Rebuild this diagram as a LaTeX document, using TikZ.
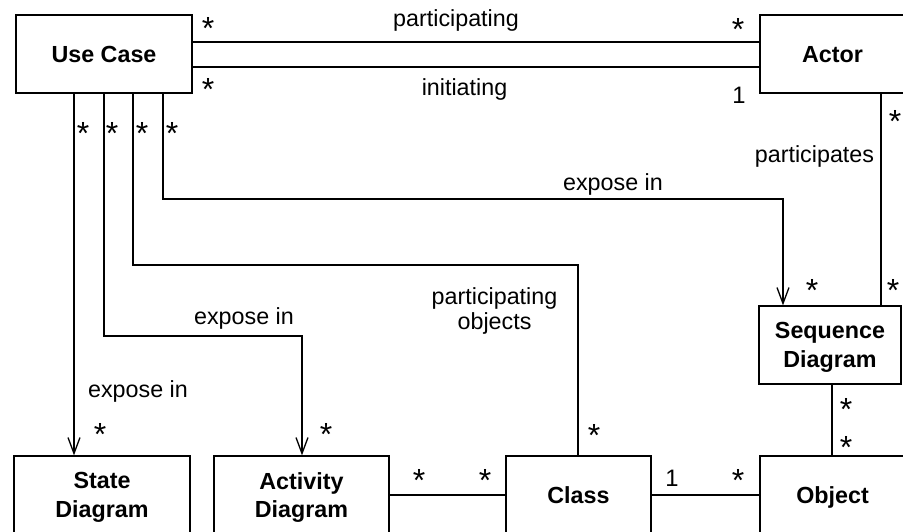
\documentclass[tikz,border=0pt]{standalone}
\usepackage{fontspec}
\setmainfont{Liberation Sans}
\usetikzlibrary{arrows.meta}
\begin{document}
\begin{tikzpicture}[x=1pt,y=-1pt,
  box/.style={draw, line width=1.3pt, inner sep=0pt, minimum height=78pt,
    font=\fontsize{23.3}{28.5}\selectfont\bfseries, align=center, text depth=0pt},
  lbl/.style={font=\fontsize{23.3}{25}\selectfont, anchor=base, inner sep=0pt, align=center},
  mult/.style={font=\fontsize{32}{32}\selectfont, anchor=base, inner sep=0pt, yshift=-18.2pt},
  one/.style={font=\fontsize{23.8}{25}\selectfont, anchor=base, inner sep=0pt},
  assoc/.style={line width=1.3pt},
  expose/.style={assoc, -{Straight Barb[length=16pt,width=12pt]}}]

\useasboundingbox (0,0) rectangle (903,531);

% classes of the model
\node[box, minimum width=176pt] (uc)    at (104,54)    {Use Case};
\node[box, minimum width=145pt] (actor) at (832.5,54)  {Actor};
\node[box, minimum width=142pt] (seq)   at (830,345)   {Sequence\\Diagram};
\node[box, minimum width=176pt] (state) at (102,495)   {State\\Diagram};
\node[box, minimum width=175pt] (act)   at (301.5,495) {Activity\\Diagram};
\node[box, minimum width=145pt] (class) at (578.5,495) {Class};
\node[box, minimum width=145pt] (obj)   at (832.5,495) {Object};

% associations
\draw[assoc] (uc.east |- 0,42) -- (actor.west |- 0,42);
\draw[assoc] (uc.east |- 0,67) -- (actor.west |- 0,67);
\draw[expose] (uc.south -| 74,0) -- (state.north -| 74,0);
\draw[expose] (uc.south -| 104,0) |- (302,336) -- (act.north -| 302,0);
\draw[assoc] (uc.south -| 133,0) |- (578,265) -- (class.north -| 578,0);
\draw[expose] (uc.south -| 163,0) |- (783,199) -- (seq.north -| 783,0);
\draw[assoc] (actor.south -| 881,0) -- (seq.north -| 881,0);
\draw[assoc] (seq.south -| 832,0) -- (obj.north -| 832,0);
\draw[assoc] (act.east) -- (class.west);
\draw[assoc] (class.east) -- (obj.west);

% association names
\node[lbl] (lpart)  at (456,26)    {participating};
\node[lbl] (linit)  at (464.5,95)  {initiating};
\node[lbl] (lparts) at (814.5,162) {participates};
\node[lbl] (lexp1)  at (613,190)   {expose in};
\node[lbl] (lpobj)  at (494.5,329) {participating\\objects};
\node[lbl] (lexp2)  at (244,324)   {expose in};
\node[lbl] (lexp3)  at (138,397)   {expose in};

% multiplicities
\node[mult] (m1)  at (208,21)  {*};
\node[mult] (m2)  at (208,82)  {*};
\node[mult] (m3)  at (738,22)  {*};
\node[one]  (m4)  at (739,103) {1};
\node[mult] (m5)  at (83,126)  {*};
\node[mult] (m6)  at (112,126) {*};
\node[mult] (m7)  at (142,126) {*};
\node[mult] (m8)  at (172,126) {*};
\node[mult] (m9)  at (895,114) {*};
\node[mult] (m10) at (812,283) {*};
\node[mult] (m11) at (893,283) {*};
\node[mult] (m12) at (846,402) {*};
\node[mult] (m13) at (846,440) {*};
\node[mult] (m14) at (100,427) {*};
\node[mult] (m15) at (326,427) {*};
\node[mult] (m16) at (594,428) {*};
\node[mult] (m17) at (419,473) {*};
\node[mult] (m18) at (485,473) {*};
\node[one]  (m19) at (672,486) {1};
\node[mult] (m20) at (738,473) {*};
\end{tikzpicture}
\end{document}
